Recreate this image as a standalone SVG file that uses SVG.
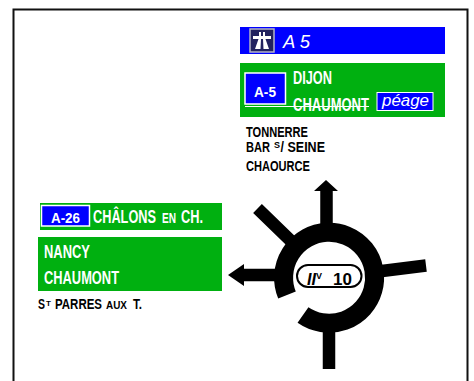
<svg xmlns="http://www.w3.org/2000/svg" width="474" height="381" viewBox="0 0 474 381">
<style>
text{font-family:"Liberation Sans Narrow","Liberation Sans",sans-serif}
.g{fill:#00b010}.b{fill:#0000ff}
.w{fill:#fff;font-size:18px;font-weight:bold}
.k{fill:#000;font-weight:bold;font-size:14px}
.l{stroke:#000;fill:none}
</style>
<rect width="474" height="381" fill="#fff"/>
<path d="M13.500 381V9.500H467.500V381" fill="none" stroke="#111" stroke-width="2"/>
<g id="sign-a5">
<rect class="b" x="240" y="27" width="205" height="27"/>
<rect x="250" y="29" width="24" height="23" fill="#22225f" stroke="#b5b5c5" stroke-width="1.500"/>
<path d="M253 36H271V39H253ZM259 32H261V36H259ZM263 32H265V36H263ZM255 49L258.500 39H261L260.500 49ZM263.500 49L263 39H265.500L269 49Z" fill="#fff"/>
<text x="283" y="48" textLength="27" lengthAdjust="spacingAndGlyphs" style="font-family:'Liberation Sans',sans-serif;font-style:italic;font-size:19px" fill="#fff">A 5</text>
</g>
<g id="sign-dijon">
<rect class="g" x="240" y="63" width="205" height="54"/>
<rect class="b" x="245" y="73" width="40.500" height="31" stroke="#fff" stroke-width="1.500"/>
<text class="w" x="254" y="97" textLength="22" lengthAdjust="spacingAndGlyphs" style="font-size:15px">A-5</text>
<text class="w" x="293" y="84" textLength="39" lengthAdjust="spacingAndGlyphs">DIJON</text>
<text class="w" x="293" y="111" textLength="76" lengthAdjust="spacingAndGlyphs">CHAUMONT</text>
<path d="M245 106.500H369" stroke="#fff" stroke-width="1" fill="none"/>
<rect class="b" x="377" y="92.500" width="56" height="18" stroke="#fff" stroke-width="1"/>
<text x="382" y="106" textLength="47" lengthAdjust="spacingAndGlyphs" style="font-family:'Liberation Sans',sans-serif;font-style:italic;font-size:17px" fill="#fff">péage</text>
</g>
<g id="labels-north">
<text class="k" x="246" y="137" textLength="62" lengthAdjust="spacingAndGlyphs">TONNERRE</text>
<text class="k" y="152"><tspan x="246" textLength="24" lengthAdjust="spacingAndGlyphs">BAR</tspan><tspan x="274" dy="-4" font-size="9">S</tspan><tspan x="280.500" dy="4" textLength="44.500" lengthAdjust="spacingAndGlyphs">/ SEINE</tspan></text>
<text class="k" x="246" y="171" textLength="64" lengthAdjust="spacingAndGlyphs">CHAOURCE</text>
</g>
<g id="sign-a26">
<rect class="g" x="40" y="203" width="182" height="27"/>
<rect class="b" x="41.500" y="205.500" width="48" height="20.500" stroke="#fff" stroke-width="1.500"/>
<text class="w" x="51" y="223" textLength="29" lengthAdjust="spacingAndGlyphs" style="font-size:15px">A-26</text>
<text class="w" y="223"><tspan x="93" textLength="63" lengthAdjust="spacingAndGlyphs">CHÂLONS</tspan><tspan x="162" font-size="14" textLength="14" lengthAdjust="spacingAndGlyphs">EN</tspan><tspan x="181" textLength="22" lengthAdjust="spacingAndGlyphs">CH.</tspan></text>
</g>
<g id="sign-nancy">
<rect class="g" x="38" y="237" width="184" height="54"/>
<text class="w" x="44" y="258" textLength="46" lengthAdjust="spacingAndGlyphs">NANCY</text>
<text class="w" x="44" y="284" textLength="75" lengthAdjust="spacingAndGlyphs">CHAUMONT</text>
</g>
<g id="label-west">
<text class="k" y="309"><tspan x="38" textLength="7" lengthAdjust="spacingAndGlyphs">S</tspan><tspan x="46" dy="-3" font-size="8">T</tspan><tspan x="55" dy="3" textLength="47" lengthAdjust="spacingAndGlyphs">PARRES</tspan><tspan x="106" font-size="11" textLength="21" lengthAdjust="spacingAndGlyphs">AUX</tspan><tspan x="133" textLength="9" lengthAdjust="spacingAndGlyphs">T.</tspan></text>
</g>
<g id="connectors">
<path class="l" stroke-width="19" d="M287 295A45.500 45.500 0 1 1 303 315"/>
<path class="l" stroke-width="12.500" d="M326.500 226V190M280 275H243M257.500 208.500L291 241M426 265.500L382 271M329 325V369"/>
<path d="M314 191H338L326 180ZM228 275L244 264V286Z" fill="#000"/>
</g>
<g id="roundabout-label">
<rect x="297" y="265" width="64.500" height="22" rx="11" fill="#fff" stroke="#000" stroke-width="2"/>
<text x="307" y="285" style="font-family:'Liberation Sans',sans-serif;font-style:italic;font-weight:bold;font-size:17px" fill="#000" textLength="9" lengthAdjust="spacingAndGlyphs">II</text>
<text x="316" y="279" style="font-family:'Liberation Sans',sans-serif;font-weight:bold;font-size:9px" fill="#000">V</text>
<text x="333" y="285" style="font-family:'Liberation Sans',sans-serif;font-weight:bold;font-size:17px" fill="#000">10</text>
</g>
</svg>
